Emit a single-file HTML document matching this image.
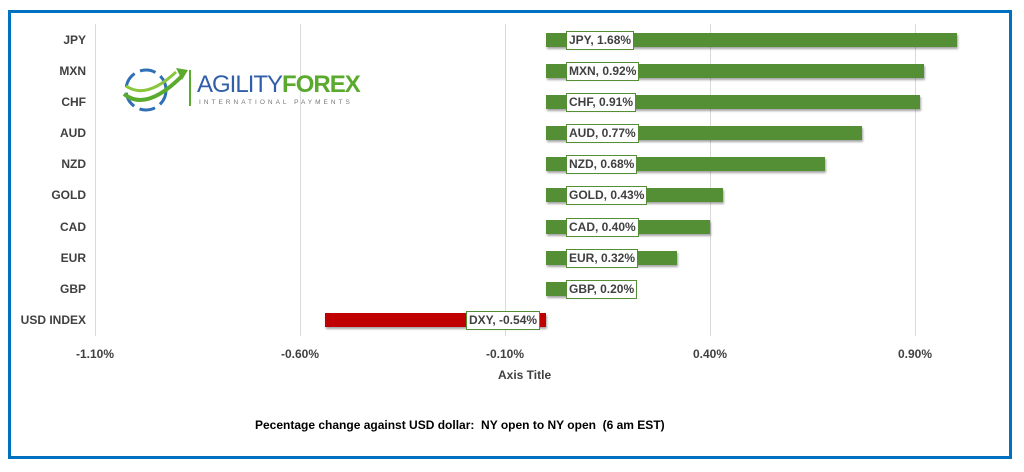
<!DOCTYPE html>
<html><head><meta charset="utf-8"><style>
body{margin:0;width:1024px;height:472px;background:#fff;overflow:hidden;font-family:"Liberation Sans",sans-serif}
.frame{position:absolute;left:8px;top:10px;width:998px;height:443px;border:3px solid #0070c0}
.g{position:absolute;top:24px;height:312px;width:1px;background:#d9d9d9}
.cat{position:absolute;right:938px;font-size:12px;font-weight:bold;color:#404040;text-align:right;white-space:nowrap}
.bar{position:absolute;height:14px;background:#548f35;box-shadow:1px 2px 2px rgba(0,0,0,.35)}
.lb{position:absolute;height:17px;line-height:17px;padding:0 2px;border:1px solid #548f35;background:#fff;font-size:12px;font-weight:bold;color:#404040;white-space:nowrap}
.tk{position:absolute;top:347px;font-size:12px;font-weight:bold;color:#404040;transform:translateX(-50%)}
</style></head><body>
<div class="frame"></div>
<div class="g" style="left:95px"></div><div class="g" style="left:300px"></div><div class="g" style="left:505px"></div><div class="g" style="left:710px"></div><div class="g" style="left:915px"></div>

<div class="cat" style="top:33px">JPY</div>
<div class="cat" style="top:64px">MXN</div>
<div class="cat" style="top:95px">CHF</div>
<div class="cat" style="top:126px">AUD</div>
<div class="cat" style="top:157px">NZD</div>
<div class="cat" style="top:188px">GOLD</div>
<div class="cat" style="top:220px">CAD</div>
<div class="cat" style="top:251px">EUR</div>
<div class="cat" style="top:282px">GBP</div>
<div class="cat" style="top:313px">USD INDEX</div>

<div class="bar" style="left:546px;top:33px;width:411px"></div>
<div class="bar" style="left:546px;top:64px;width:378px"></div>
<div class="bar" style="left:546px;top:95px;width:374px"></div>
<div class="bar" style="left:546px;top:126px;width:316px"></div>
<div class="bar" style="left:546px;top:157px;width:279px"></div>
<div class="bar" style="left:546px;top:188px;width:177px"></div>
<div class="bar" style="left:546px;top:220px;width:164px"></div>
<div class="bar" style="left:546px;top:251px;width:131px"></div>
<div class="bar" style="left:546px;top:282px;width:82px"></div>
<div class="bar" style="left:325px;top:313px;width:221px;background:#c00000"></div>

<div class="lb" style="left:566px;top:31px">JPY, 1.68%</div>
<div class="lb" style="left:566px;top:62px">MXN, 0.92%</div>
<div class="lb" style="left:566px;top:93px">CHF, 0.91%</div>
<div class="lb" style="left:566px;top:124px">AUD, 0.77%</div>
<div class="lb" style="left:566px;top:155px">NZD, 0.68%</div>
<div class="lb" style="left:566px;top:186px">GOLD, 0.43%</div>
<div class="lb" style="left:566px;top:218px">CAD, 0.40%</div>
<div class="lb" style="left:566px;top:249px">EUR, 0.32%</div>
<div class="lb" style="left:566px;top:280px">GBP, 0.20%</div>
<div class="lb" style="left:466px;top:311px">DXY, -0.54%</div>

<div class="tk" style="left:95px">-1.10%</div>
<div class="tk" style="left:300px">-0.60%</div>
<div class="tk" style="left:505px">-0.10%</div>
<div class="tk" style="left:710px">0.40%</div>
<div class="tk" style="left:915px">0.90%</div>
<div style="position:absolute;left:498px;top:368px;font-size:12px;font-weight:bold;color:#404040">Axis Title</div>
<div style="position:absolute;left:255px;top:418px;font-size:12px;font-weight:bold;color:#000">Pecentage change against USD dollar:&nbsp; NY open to NY open&nbsp; (6 am EST)</div>

<svg style="position:absolute;left:120px;top:62px" width="72" height="56" viewBox="0 0 72 56">
<ellipse cx="26" cy="28" rx="20" ry="20" fill="none" stroke="#2f6fb5" stroke-width="3" stroke-dasharray="16 6"/>
<path d="M4 32 Q26 50 62 14" fill="none" stroke="#5aaa2e" stroke-width="4"/>
<path d="M6 24 Q26 38 56 10" fill="none" stroke="#8cc63f" stroke-width="3"/>
<polygon points="56,6 68,8 62,18" fill="#5aaa2e"/>
</svg>
<div style="position:absolute;left:189px;top:70px;width:2px;height:36px;background:#5aaa2e"></div>
<div style="position:absolute;left:197px;top:72px;font-size:24px;letter-spacing:-1px;line-height:26px;color:#2f5fa8;white-space:nowrap">AGILITY<span style="color:#5aaa2e;font-weight:bold">FOREX</span></div>
<div style="position:absolute;left:199px;top:99px;font-size:6.5px;letter-spacing:3px;color:#777;white-space:nowrap">INTERNATIONAL PAYMENTS</div>
</body></html>
